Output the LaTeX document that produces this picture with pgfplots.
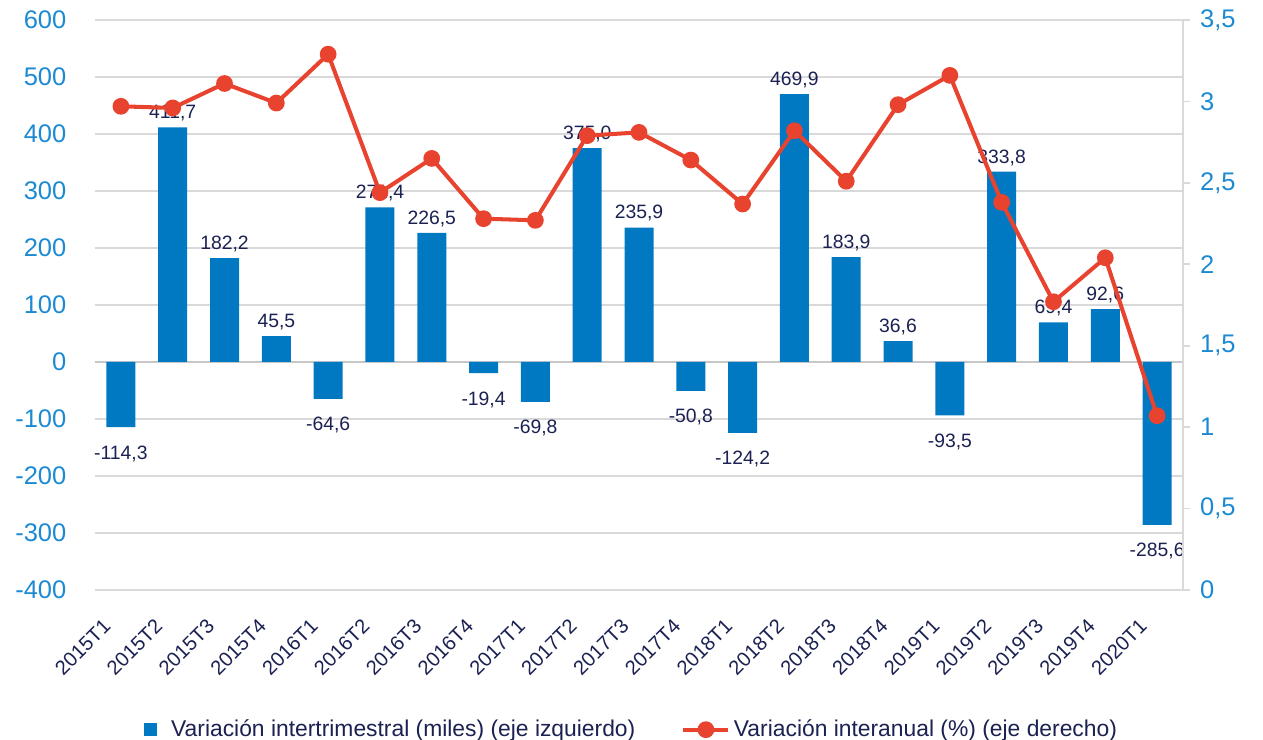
\documentclass[border=0pt]{standalone}
\usepackage{fontspec}
\setmainfont{Liberation Sans}
\usepackage{pgfplots}
\usepackage{pgfplotstable}
\pgfplotsset{compat=1.18}
\definecolor{barblue}{HTML}{0079C2}
\definecolor{tickblue}{HTML}{1C8AD3}
\definecolor{lred}{HTML}{E8432F}
\definecolor{navy}{HTML}{1B2152}
\definecolor{gridgray}{HTML}{D9D9D9}

% variacion intertrimestral (miles)
\pgfplotstableread{
x val
0 -114.3
1 411.7
2 182.2
3 45.5
4 -64.6
5 271.4
6 226.5
7 -19.4
8 -69.8
9 375.0
10 235.9
11 -50.8
12 -124.2
13 469.9
14 183.9
15 36.6
16 -93.5
17 333.8
18 69.4
19 92.6
20 -285.6
}\bars

% variacion interanual (%)
\pgfplotstableread{
x val
0 2.97
1 2.96
2 3.11
3 2.99
4 3.29
5 2.44
6 2.65
7 2.28
8 2.27
9 2.79
10 2.81
11 2.64
12 2.37
13 2.82
14 2.51
15 2.98
16 3.16
17 2.38
18 1.77
19 2.04
20 1.07
}\rate

\begin{document}
\begin{tikzpicture}
\begin{axis}[name=ax, scale only axis, width=21.76cm, height=11.4cm,
  xmin=-0.5, xmax=20.5, ymin=-400, ymax=600, ytick distance=100,
  xtick={0,...,20},
  xticklabels={2015T1,2015T2,2015T3,2015T4,2016T1,2016T2,2016T3,2016T4,2017T1,2017T2,2017T3,2017T4,2018T1,2018T2,2018T3,2018T4,2019T1,2019T2,2019T3,2019T4,2020T1},
  x tick label style={xshift=-0.38cm, yshift=-0.38cm, rotate=45, anchor=north east, font=\fontsize{11.5}{13}\selectfont, text=navy},
  y tick label style={font=\fontsize{14.5}{16}\selectfont, text=tickblue, xshift=-0.45cm},
  /pgf/number format/assume math mode=true,
  axis line style={draw=none}, major tick style={draw=none},
  ymajorgrids, grid style={gridgray, line width=0.9pt},
  extra y ticks={0}, extra y tick labels={}, extra y tick style={grid style={gridgray!80!gray, line width=1.4pt}},
  clip=false]
\addplot[ybar, bar width=0.58cm, fill=barblue, draw=none,
  visualization depends on={y \as \v},
  nodes near coords={\pgfmathprintnumber[use comma,fixed,fixed zerofill,precision=1,assume math mode=true]{\pgfplotspointmeta}},
  nodes near coords align={vertical},
  every node near coord/.append style={font=\fontsize{11}{12}\selectfont, text=navy, yshift={ifthenelse(\v<0,-7,0)}}]
  table[x=x, y=val] {\bars};
\end{axis}
\begin{axis}[at={(ax.south west)}, anchor=south west, scale only axis, width=21.76cm, height=11.4cm,
  xmin=-0.5, xmax=20.5, ymin=0, ymax=3.5, ytick distance=0.5,
  axis x line=none, axis y line*=right,
  axis line style={gridgray, line width=0.9pt}, y axis line style={-},
  tick align=outside, major tick length=0.14cm, major tick style={gridgray, line width=0.9pt},
  /pgf/number format/use comma, /pgf/number format/assume math mode=true,
  y tick label style={font=\fontsize{14.5}{16}\selectfont, text=tickblue, xshift=0.08cm},
  legend style={at={(0.494,-0.215)}, anchor=north, draw=none, font=\fontsize{13}{15}\selectfont, text=navy,
    legend columns=2, /tikz/every even column/.append style={column sep=0.85cm}},
  legend cell align=left, clip=false]
\addlegendimage{legend image code/.code={\fill[barblue] (0cm,-0.12cm) rectangle (0.24cm,0.12cm); \path (0.45cm,0cm);}}
\addlegendentry{Variación intertrimestral (miles) (eje izquierdo)}
\addplot[lred, line width=2.3pt, mark=*, mark size=3.6pt, mark options={fill=lred, draw=lred},
  legend image code/.code={\draw[lred, line width=2.3pt] (0cm,0cm) -- (0.9cm,0cm); \fill[lred] (0.45cm,0cm) circle (3.6pt);}]
  table[x=x, y=val] {\rate};
\addlegendentry{Variación interanual (\%) (eje derecho)}
\end{axis}
\pgfresetboundingbox
\path ([shift={(-1.9cm,11.8cm)}]ax.south west) rectangle ([shift={(23.36cm,-2.98cm)}]ax.south west);
\end{tikzpicture}
\end{document}
